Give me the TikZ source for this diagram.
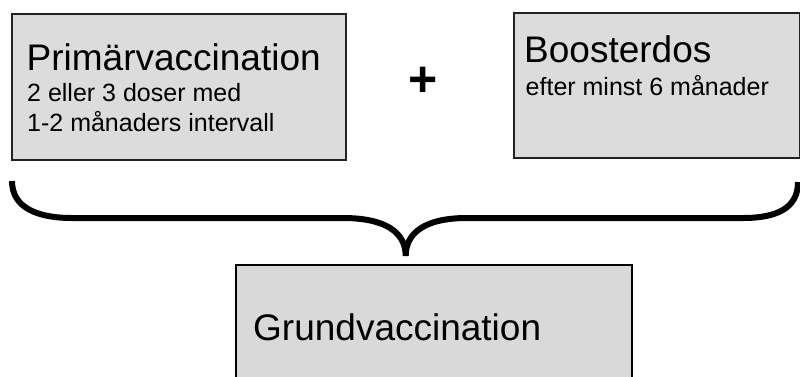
\documentclass[tikz,border=0pt]{standalone}
\usepackage{fontspec}
\setmainfont{Liberation Sans}
\definecolor{boxgray}{HTML}{DCDCDC}
\definecolor{boxgrayb}{HTML}{D9D9D9}
\definecolor{edgegray}{HTML}{222222}
\begin{document}
\begin{tikzpicture}[x=1pt,y=-1pt,
  box/.style={draw=edgegray, line width=1.5pt, fill=boxgray, inner sep=0pt, anchor=north west},
  titletext/.style={anchor=base west, inner sep=0pt, font=\fontsize{37}{44}\selectfont},
  subtext/.style={anchor=base west, inner sep=0pt, font=\fontsize{25}{30}\selectfont},
  bracestroke/.style={line width=6pt}]
\useasboundingbox (0,0) rectangle (800,376);
\clip (0,0) rectangle (800,376);
% boxes
\node[box, minimum width=334pt, minimum height=146pt] (prim) at (11,13) {};
\node[box, minimum width=286pt, minimum height=145pt] (boost) at (513,12) {};
\node[box, draw=black, line width=2pt, fill=boxgrayb, minimum width=396pt, minimum height=140pt] (grund) at (235,264) {};
% texts
\node[titletext] (t1) at (26.5,70.5) {Primärvaccination};
\node[subtext] (s1) at (27,101.5) {2 eller 3 doser med};
\node[subtext] (s2) at (27,131) {1-2 månaders intervall};
\node[titletext] (t2) at (524,62.7) {Boosterdos};
\node[subtext] (s3) at (525.5,95) {efter minst 6 månader};
\node[titletext] (t3) at (253,340.7) {Grundvaccination};
\node[anchor=base, inner sep=0pt, font=\bfseries\fontsize{50}{50}\selectfont] (plus) at (422.7,96.5) {+};
% brace
\coordinate (bl) at (12,181);
\coordinate (bla) at (72,218);
\coordinate (blb) at (343,218);
\coordinate (tip) at (405.7,256);
\coordinate (bra) at (466.7,218);
\coordinate (brb) at (743,218);
\coordinate (br) at (798,182);
\draw[bracestroke] (bl) .. controls (12,208) and (38,218) .. (bla) -- (blb)
  .. controls (385,218) and (405.7,232) .. (tip)
  .. controls (405.7,232) and (426.4,218) .. (bra) -- (brb)
  .. controls (777,218) and (798,208) .. (br);
\end{tikzpicture}
\end{document}
